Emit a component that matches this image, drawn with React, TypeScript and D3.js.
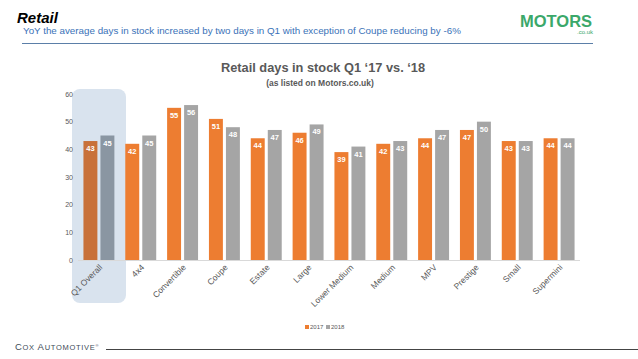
import React from "react";
import * as d3 from "d3";

const categories = ["Q1 Overall", "4x4", "Convertible", "Coupe", "Estate", "Large", "Lower Medium", "Medium", "MPV", "Prestige", "Small", "Supermini"];
const values2017 = [43, 42, 55, 51, 44, 46, 39, 42, 44, 47, 43, 44];
const values2018 = [45, 45, 56, 48, 47, 49, 41, 43, 47, 50, 43, 44];
const yTicks = [0, 10, 20, 30, 40, 50, 60];
const seriesNames = ["2017", "2018"];

const W = 638, H = 359;
const FONT = "Liberation Sans, Arial, sans-serif";
const ORANGE = "#ED7D31";
const GRAY = "#A5A5A5";

export default function App() {
  const x = d3.scaleBand<string>().domain(categories).range([78, 580]).paddingInner(0).paddingOuter(0);
  const y = d3.scaleLinear().domain([0, 60]).range([260, 94]);
  const sub = d3.scaleBand<string>().domain(seriesNames).range([0, x.bandwidth()]).paddingInner(0.18).paddingOuter(0.32);
  const series = [values2017, values2018];
  const colors = [ORANGE, GRAY];
  const highlightColors = ["#C8713A", "#8A96A2"];
  const bx0 = x(categories[0])!;

  return (
    <svg width={W} height={H} style={{ position: "absolute", left: 0, top: 0, background: "#fff" }} fontFamily={FONT}>
      {/* header */}
      <text x={17} y={22.5} fontSize={15} fontWeight="bold" fontStyle="italic" fill="#000">Retail</text>
      <text x={23} y={34} fontSize={9.8} fill="#3A72B8">YoY the average days in stock increased by two days in Q1 with exception of Coupe reducing by -6%</text>
      <line x1={22} x2={593} y1={43.5} y2={43.5} stroke="#5B7FA8" strokeWidth={1} />
      <text x={520} y={27} fontSize={16.5} fontWeight="900" fill="#3BA86A">MOTORS</text>
      <text x={593} y={33.5} fontSize={6} fill="#3BA86A" textAnchor="end">.co.uk</text>

      {/* highlight box */}
      <rect x={bx0 - 6} y={89} width={54} height={214} rx={8} fill="#D9E3EE" />

      {/* titles */}
      <text x={323} y={72} fontSize={12.8} fontWeight="bold" fill="#595959" textAnchor="middle">Retail days in stock Q1 ‘17 vs. ‘18</text>
      <text x={320} y={86} fontSize={8.5} fontWeight="bold" fill="#595959" textAnchor="middle">(as listed on Motors.co.uk)</text>

      {/* y axis labels */}
      {yTicks.map(t => (
        <text key={t} x={73} y={y(t) + 2.5} fontSize={7} fill="#595959" textAnchor="end">{t}</text>
      ))}
      <line x1={78} x2={580} y1={260.5} y2={260.5} stroke="#D9D9D9" strokeWidth={1} />

      {/* bars */}
      {categories.map((c, i) => (
        <g key={c} transform={`translate(${x(c)},0)`}>
          {series.map((s, k) => {
            const v = s[i];
            const bx = sub(seriesNames[k])!;
            return (
              <g key={k}>
                <rect x={bx} y={y(v)} width={sub.bandwidth()} height={y(0) - y(v)} fill={i === 0 ? highlightColors[k] : colors[k]} />
                <text x={bx + sub.bandwidth() / 2} y={y(v) + 10} fontSize={7.5} fontWeight="bold" fill="#fff" textAnchor="middle">{v}</text>
              </g>
            );
          })}
        </g>
      ))}

      {/* x labels */}
      {categories.map(c => {
        const cx = x(c)! + x.bandwidth() / 2 + 4;
        const cy = 268;
        return (
          <text key={c} x={cx} y={cy} fontSize={8.5} fill="#595959" textAnchor="end" transform={`rotate(-45 ${cx} ${cy})`}>{c}</text>
        );
      })}

      {/* legend */}
      <rect x={305} y={325} width={4} height={4} fill={ORANGE} />
      <text x={310} y={329} fontSize={6} fill="#595959">2017</text>
      <rect x={326} y={325} width={4} height={4} fill={GRAY} />
      <text x={331} y={329} fontSize={6} fill="#595959">2018</text>

      {/* footer */}
      <text x={15} y={350} fontSize={9.5} fill="#3D4A57" letterSpacing={0.7}>
        <tspan>C</tspan><tspan fontSize={7.5}>OX </tspan><tspan>A</tspan><tspan fontSize={7.5}>UTOMOTIVE</tspan><tspan fontSize={4} dy={-3}>®</tspan>
      </text>
      <line x1={106} x2={638} y1={349.5} y2={349.5} stroke="#444" strokeWidth={1} />
    </svg>
  );
}
